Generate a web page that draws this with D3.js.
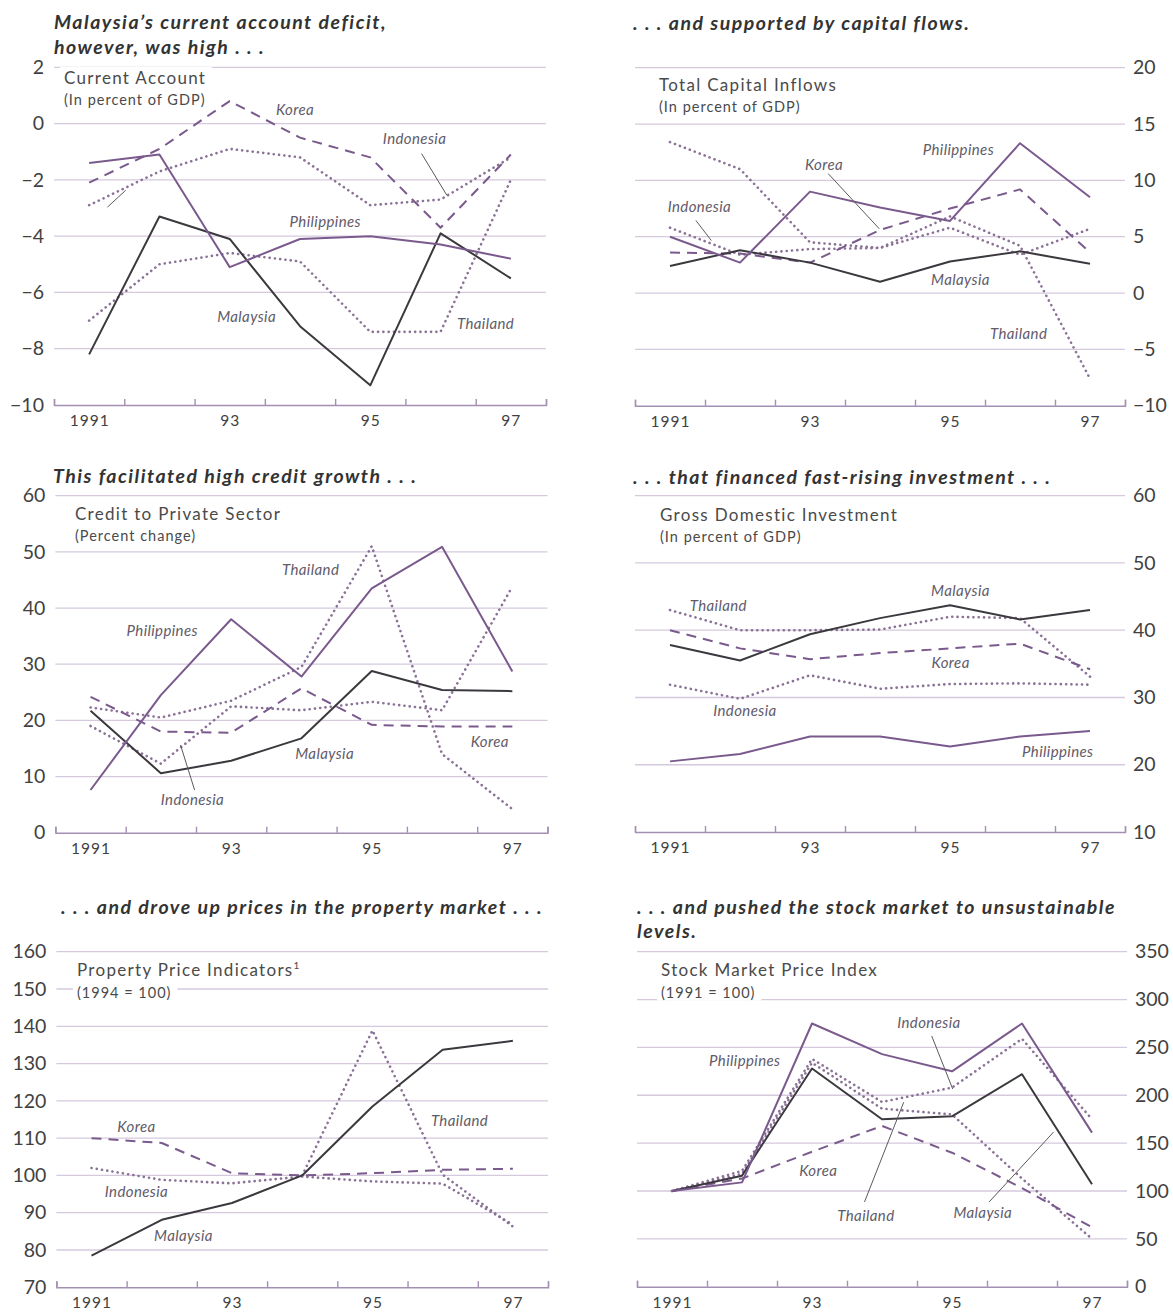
<!DOCTYPE html>
<html>
<head>
<meta charset="utf-8">
<script src="https://cdn.jsdelivr.net/npm/d3@7"></script>
<style>
  body { margin: 0; background: #fff; }
  svg { display: block; }
  text { font-family: Lato, "Open Sans", sans-serif; }
</style>
</head>
<body>
<div id="chart"></div>
<script>
// six small line panels, Asian crisis indicators 1991-97

const years = [1991, 1992, 1993, 1994, 1995, 1996, 1997];
const yearTicks = [1991, 1993, 1995, 1997];

// current account, % of GDP
const caMalaysia    = [-8.2, -3.3, -4.1, -7.2, -9.3, -3.9, -5.5];
const caPhilippines = [-1.4, -1.1, -5.1, -4.1, -4.0, -4.3, -4.8];
const caKorea       = [-2.1, -0.9, 0.8, -0.5, -1.2, -3.7, -1.1];
const caIndonesia   = [-2.9, -1.7, -0.9, -1.2, -2.9, -2.7, -1.2];
const caThailand    = [-7.0, -5.0, -4.6, -4.9, -7.4, -7.4, -2.0];

// total capital inflows, % of GDP
const kfMalaysia    = [2.4, 3.8, 2.7, 1.0, 2.8, 3.7, 2.6];
const kfPhilippines = [5.0, 2.7, 9.0, 7.6, 6.4, 13.3, 8.5];
const kfKorea       = [3.6, 3.5, 2.7, 5.6, 7.5, 9.2, 3.6];
const kfIndonesia   = [5.8, 3.4, 3.9, 4.0, 5.8, 3.4, 5.7];
const kfThailand    = [13.4, 11.0, 4.5, 4.0, 6.8, 4.2, -7.6];

// credit to private sector, % change
const crMalaysia    = [21.7, 10.6, 12.8, 16.8, 28.8, 25.4, 25.2];
const crPhilippines = [7.6, 24.5, 38.0, 27.8, 43.5, 50.9, 28.7];
const crKorea       = [24.2, 18.0, 17.8, 25.7, 19.2, 18.9, 18.9];
const crIndonesia   = [19.0, 12.3, 22.5, 21.8, 23.3, 21.8, 43.8];
const crThailand    = [22.3, 20.5, 23.5, 29.5, 51.0, 14.0, 4.2];

// gross domestic investment, % of GDP
const inMalaysia    = [37.8, 35.5, 39.4, 41.8, 43.7, 41.6, 43.0];
const inPhilippines = [20.5, 21.6, 24.2, 24.2, 22.7, 24.2, 25.0];
const inKorea       = [40.0, 37.3, 35.7, 36.6, 37.3, 38.0, 34.2];
const inIndonesia   = [31.9, 29.8, 33.3, 31.3, 32.0, 32.1, 31.9];
const inThailand    = [43.0, 40.0, 40.0, 40.1, 42.0, 41.8, 33.1];

// property price indicators, 1994 = 100
const ppMalaysia    = [78.5, 88.1, 92.6, 100, 118.5, 133.7, 136.1];
const ppKorea       = [110, 108.7, 100.6, 100, 100.6, 101.5, 101.8];
const ppIndonesia   = [102, 98.8, 97.9, 99.7, 98.4, 97.8, 86.8];
const ppThailand    = [null, null, null, 100, 138.9, 100.2, 86.3];

// stock market price index, 1991 = 100
const smPhilippines = [100, 109, 275, 243, 225, 275, 161];
const smMalaysia    = [100, 116, 228, 175, 178, 222, 107];
const smKorea       = [100, 113, 141, 168, 140, 103, 62];
const smIndonesia   = [100, 121, 238, 193, 208, 259, 175];
const smThailand    = [100, 118, 234, 186, 180, 113, 50];

const purple = "#7a5a8d", dark = "#3b383e", dotC = "#8a7196";
const gridC = "#d5c9de", axisC = "#a28fb2", textC = "#414141", labelC = "#625b69";

const style = {
  Malaysia:    {color: dark,   dash: null,       w: 2,   order: 3},
  Philippines: {color: purple, dash: null,       w: 2,   order: 4},
  Korea:       {color: purple, dash: "10,7",     w: 2,   order: 2},
  Indonesia:   {color: dotC,   dash: "0.1,5.2",  w: 2.6, order: 1},
  Thailand:    {color: dotC,   dash: "0.1,5.2",  w: 2.6, order: 0}
};

const W = 1173, H = 1314;
const svg = d3.select("#chart").append("svg")
  .attr("width", W).attr("height", H)
  .attr("viewBox", `0 0 ${W} ${H}`);

const panels = [
  {
    title: ["Malaysia\u2019s current account deficit,", "however, was high . . ."], titleX: 54, titleY: 29,
    sub: "Current Account", note: "(In percent of GDP)", subX: 64, subY: 84, noteY: 105,
    x0: 54, x1: 546, yBottom: 405, yTop: 67.3, domain: [-10, 2], step: 2, side: "left",
    series: {Thailand: caThailand, Indonesia: caIndonesia, Korea: caKorea, Malaysia: caMalaysia, Philippines: caPhilippines},
    labels: [["Korea", 1993.93, 0.5], ["Indonesia", 1995.63, -0.53], ["Philippines", 1994.36, -3.5],
             ["Malaysia", 1993.24, -6.88], ["Thailand", 1996.64, -7.12]],
    leaders: [[1995.73, -1.07, 1996.09, -2.55], [1991.26, -2.97, 1991.52, -2.37]]
  },
  {
    title: [". . . and supported by capital flows."], titleX: 633, titleY: 29.5,
    sub: "Total Capital Inflows", note: "(In percent of GDP)", subX: 659, subY: 91, noteY: 112,
    x0: 635, x1: 1125, yBottom: 405.7, yTop: 67.7, domain: [-10, 20], step: 5, side: "right",
    series: {Thailand: kfThailand, Indonesia: kfIndonesia, Korea: kfKorea, Malaysia: kfMalaysia, Philippines: kfPhilippines},
    labels: [["Philippines", 1995.12, 12.73], ["Korea", 1993.2, 11.42], ["Indonesia", 1991.42, 7.62],
             ["Malaysia", 1995.15, 1.16], ["Thailand", 1995.98, -3.65]],
    leaders: [[1991.37, 6.44, 1991.59, 4.66], [1993.26, 10.6, 1993.99, 5.7]]
  },
  {
    title: ["This facilitated high credit growth . . ."], titleX: 53, titleY: 483,
    sub: "Credit to Private Sector", note: "(Percent change)", subX: 75, subY: 519.5, noteY: 541,
    x0: 55.4, x1: 547.5, yBottom: 832.7, yTop: 495.7, domain: [0, 60], step: 10, side: "left",
    series: {Thailand: crThailand, Indonesia: crIndonesia, Korea: crKorea, Malaysia: crMalaysia, Philippines: crPhilippines},
    labels: [["Thailand", 1994.13, 46.8], ["Philippines", 1992.02, 36.0], ["Malaysia", 1994.33, 14.1],
             ["Korea", 1996.68, 16.2], ["Indonesia", 1992.45, 5.8]],
    leaders: [[1992.48, 7.6, 1992.28, 15.6]]
  },
  {
    title: [". . . that financed fast-rising investment . . ."], titleX: 633, titleY: 484,
    sub: "Gross Domestic Investment", note: "(In percent of GDP)", subX: 660, subY: 520.5, noteY: 542,
    x0: 635, x1: 1125, yBottom: 832, yTop: 495.7, domain: [10, 60], step: 10, side: "right",
    series: {Thailand: inThailand, Indonesia: inIndonesia, Korea: inKorea, Malaysia: inMalaysia, Philippines: inPhilippines},
    labels: [["Malaysia", 1995.15, 45.8], ["Thailand", 1991.69, 43.7], ["Korea", 1995.01, 35.2],
             ["Indonesia", 1992.07, 28.1], ["Philippines", 1996.54, 22.0]],
    leaders: []
  },
  {
    title: [". . . and drove up prices in the property market . . ."], titleX: 61, titleY: 913.5,
    sub: "Property Price Indicators", sup: "1", note: "(1994 = 100)", subX: 77, subY: 976, noteY: 997.5,
    x0: 56.4, x1: 548, yBottom: 1287.3, yTop: 951.7, domain: [70, 160], step: 10, side: "left",
    series: {Thailand: ppThailand, Indonesia: ppIndonesia, Korea: ppKorea, Malaysia: ppMalaysia},
    labels: [["Korea", 1991.64, 113.1], ["Indonesia", 1991.64, 95.7], ["Malaysia", 1992.31, 83.9],
             ["Thailand", 1996.24, 114.7]],
    leaders: []
  },
  {
    title: [". . . and pushed the stock market to unsustainable", "levels."], titleX: 637, titleY: 913.5,
    sub: "Stock Market Price Index", note: "(1991 = 100)", subX: 661, subY: 976, noteY: 997.5,
    x0: 637, x1: 1127, yBottom: 1286.7, yTop: 951.7, domain: [0, 350], step: 50, side: "right",
    series: {Thailand: smThailand, Indonesia: smIndonesia, Korea: smKorea, Malaysia: smMalaysia, Philippines: smPhilippines},
    labels: [["Indonesia", 1994.67, 276], ["Philippines", 1992.04, 236], ["Korea", 1993.09, 121.5],
             ["Thailand", 1993.77, 74.6], ["Malaysia", 1995.44, 77]],
    leaders: [[1994.71, 262, 1995.01, 206.6], [1993.75, 88.5, 1994.31, 192.7], [1995.53, 88.5, 1996.45, 161.5]]
  }
];

panels.forEach(drawPanel);

function drawPanel(p) {
  const g = svg.append("g");
  const x = d3.scaleLinear().domain([1990.5, 1997.5]).range([p.x0, p.x1]);
  const y = d3.scaleLinear().domain(p.domain).range([p.yBottom, p.yTop]);
  const ticks = d3.range(p.domain[0], p.domain[1] + p.step / 2, p.step);

  // gridlines (bottom one is the axis)
  g.append("g").selectAll("line")
    .data(ticks.slice(1))
    .join("line")
      .attr("x1", p.x0).attr("x2", p.x1)
      .attr("y1", d => y(d)).attr("y2", d => y(d))
      .attr("stroke", gridC).attr("stroke-width", 1.3);

  // y labels
  const yAxis = (p.side === "left" ? d3.axisLeft(y) : d3.axisRight(y))
    .tickValues(ticks).tickSize(0).tickPadding(p.side === "left" ? 9 : 7).tickFormat(d3.format("d"));
  const ya = g.append("g")
    .attr("transform", `translate(${p.side === "left" ? p.x0 - 1 : p.x1 + 1},0)`)
    .call(yAxis);
  ya.select(".domain").remove();
  ya.selectAll("text")
    .attr("font-family", "Lato, 'Open Sans', sans-serif")
    .attr("font-size", 19.5).attr("fill", textC);

  // x axis line with upward ticks at half years
  const xa = g.append("g")
    .attr("transform", `translate(0,${p.yBottom})`)
    .call(d3.axisBottom(x).tickValues(d3.range(1990.5, 1997.6, 1)).tickSize(-6).tickSizeOuter(-6).tickFormat(""));
  xa.selectAll("path, line").attr("stroke", axisC).attr("stroke-width", 1.4);

  const xl = g.append("g")
    .attr("transform", `translate(0,${p.yBottom})`)
    .call(d3.axisBottom(x).tickValues(yearTicks).tickSize(0).tickPadding(10)
      .tickFormat(d => d === 1991 ? "1991" : String(d).slice(2)));
  xl.select(".domain").remove();
  xl.selectAll("text")
    .attr("font-family", "Lato, 'Open Sans', sans-serif")
    .attr("font-size", 15.5).attr("fill", textC).attr("letter-spacing", 1);

  // title
  p.title.forEach((t, i) => {
    g.append("text")
      .attr("x", p.titleX).attr("y", p.titleY + i * 24.5)
      .attr("font-size", 19.5).attr("font-weight", "bold").attr("font-style", "italic")
      .attr("letter-spacing", 1.5)
      .attr("fill", "#333")
      .text(t);
  });

  // subtitle with white backing that breaks the gridlines
  const subG = g.append("g");
  const st = subG.append("text")
    .attr("x", p.subX).attr("y", p.subY)
    .attr("font-size", 17).attr("letter-spacing", 1.3).attr("fill", "#4a4a4a")
    .text(p.sub);
  if (p.sup) st.append("tspan").attr("dy", -7).attr("font-size", 10).text(p.sup);
  const nt = subG.append("text")
    .attr("x", p.subX).attr("y", p.noteY)
    .attr("font-size", 14.5).attr("letter-spacing", 1).attr("fill", "#4a4a4a")
    .text(p.note);
  [st, nt].forEach(t => {
    const b = t.node().getBBox();
    subG.insert("rect", "text")
      .attr("x", b.x - 4).attr("y", b.y)
      .attr("width", b.width + 10).attr("height", b.height)
      .attr("fill", "#fff");
  });

  // series
  const line = d3.line()
    .defined(d => d.v != null)
    .x(d => x(d.year)).y(d => y(d.v));

  const entries = Object.entries(p.series)
    .sort((a, b) => style[a[0]].order - style[b[0]].order);

  g.append("g").selectAll("path")
    .data(entries)
    .join("path")
      .attr("d", ([, vals]) => line(vals.map((v, i) => ({year: years[i], v}))))
      .attr("fill", "none")
      .attr("stroke", ([k]) => style[k].color)
      .attr("stroke-width", ([k]) => style[k].w)
      .attr("stroke-dasharray", ([k]) => style[k].dash)
      .attr("stroke-linecap", ([k]) => style[k].dash && style[k].dash.startsWith("0.1") ? "round" : "butt")
      .attr("stroke-linejoin", "round");

  // leader lines and series names
  g.append("g").selectAll("line")
    .data(p.leaders)
    .join("line")
      .attr("x1", d => x(d[0])).attr("y1", d => y(d[1]))
      .attr("x2", d => x(d[2])).attr("y2", d => y(d[3]))
      .attr("stroke", "#5a5a5a").attr("stroke-width", 1);

  g.append("g").selectAll("text")
    .data(p.labels)
    .join("text")
      .attr("x", d => x(d[1])).attr("y", d => y(d[2]))
      .attr("dy", "0.35em")
      .attr("text-anchor", "middle")
      .attr("font-size", 15).attr("font-style", "italic").attr("letter-spacing", 0.4)
      .attr("fill", labelC)
      .text(d => d[0]);
}
</script>
</body>
</html>
